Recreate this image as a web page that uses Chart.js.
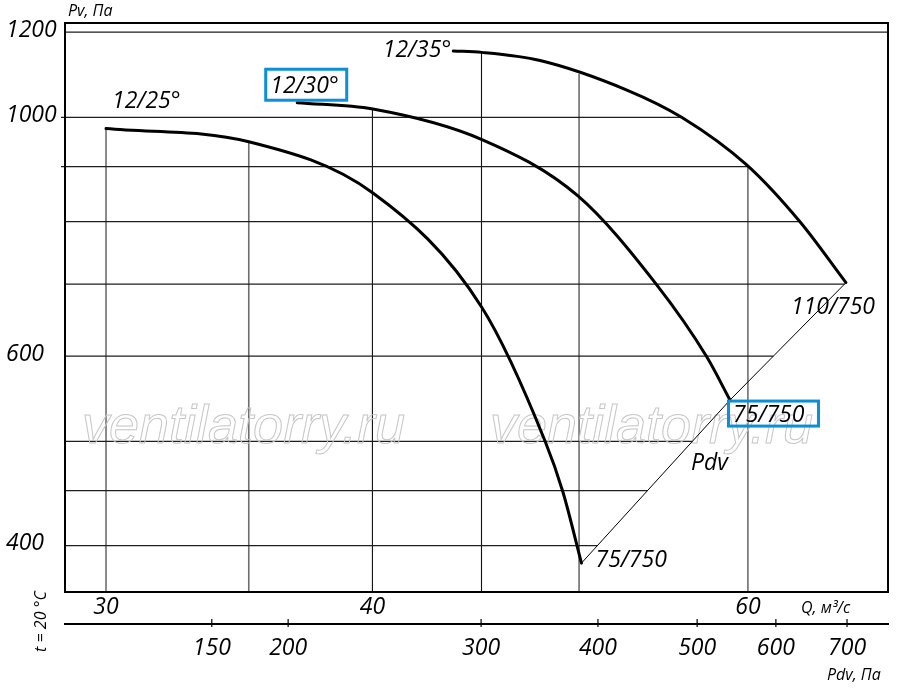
<!DOCTYPE html>
<html><head><meta charset="utf-8">
<script src="https://cdn.jsdelivr.net/npm/chart.js@4.4.0/dist/chart.umd.min.js"></script>
<style>html,body{margin:0;padding:0;background:#fff;}#wrap{width:900px;height:693px;}</style>
</head><body><div id="wrap"><canvas id="c" width="900" height="693"></canvas></div>
<script>
// ---- data ----
const qGridLines   = [30, 35, 40, 45, 50, 60];
const qTickLabels  = [30, 40, 60];
const pvGridLines  = [400, 450, 500, 600, 700, 800, 900, 1000, 1200];
const pvTickLabels = [400, 600, 1000, 1200];
const pdvTickLabels = [150, 200, 300, 400, 500, 600, 700];
const pdvTickAtQ    = [33.63, 36.52, 44.98, 51.03, 56.80, 61.84, 66.78];

const curve25Q  = [30, 35, 40.02, 45.02, 48.2, 49.14, 50.13];
const curve25Pv = [976.3, 949, 850.6, 665.8, 500.2, 448.5, 385.4];
const curve30Q  = [36.88, 40.02, 45.02, 49.94, 54.33, 57.4, 58.85];
const curve30Pv = [1031.7, 1017.9, 953.6, 845.2, 700.2, 598.8, 546.2];
const curve35Q  = [43.65, 45.02, 47.94, 52.65, 55.88, 59.94, 63.47, 66.7];
const curve35Pv = [1152.4, 1149, 1129.3, 1060.1, 999.6, 902.7, 799.7, 702.1];
const pdvLineQ  = [50.13, 58.85, 66.7];
const pdvLinePv = [385.4, 546.2, 702.1];

const curveNames  = ['12/25°', '12/30°', '12/35°'];
const pointLabels = ['75/750', '75/750', '110/750'];
const qRange  = [28.7, 69.8];
const pvRange = [362.3, 1223.5];

// ---- helpers ----
const FAM = "'Open Sans', sans-serif";
const pts = (qs, ps) => qs.map((q, i) => ({x: q, y: ps[i]}));
function yAtX(p, X) {
  if (X < p[0].x - 0.6 || X > p[p.length - 1].x + 0.6) return null;
  for (let i = 0; i < p.length - 1; i++) {
    const a = p[i], b = p[i + 1];
    if (X >= a.x - 0.6 && X <= b.x + 0.6) {
      const t = b.x === a.x ? 0 : Math.min(1, Math.max(0, (X - a.x) / (b.x - a.x)));
      return a.y + (b.y - a.y) * t;
    }
  }
  return p[p.length - 1].y;
}
function xAtY(p, Y) {
  if (Y < p[0].y) return null;
  for (let i = 0; i < p.length - 1; i++) {
    const a = p[i], b = p[i + 1];
    if (Y >= a.y && Y <= b.y) {
      const t = b.y === a.y ? 0 : (Y - a.y) / (b.y - a.y);
      return a.x + (b.x - a.x) * t;
    }
  }
  return p[p.length - 1].x;
}
const px = meta => meta.data.map(e => ({x: e.x, y: e.y}));

const decor = {
  id: 'decor',
  beforeDatasetsDraw(chart) {
    const {ctx, chartArea: a, scales: {x, y}} = chart;
    const c = [0, 1, 2].map(i => px(chart.getDatasetMeta(i)));
    const pd = px(chart.getDatasetMeta(3));
    ctx.save();
    // vertical grid lines, stopping at the top curve
    qGridLines.forEach(q => {
      const X = x.getPixelForValue(q);
      let top = null;
      c.forEach(p => { const v = yAtX(p, X); if (v !== null && (top === null || v < top)) top = v; });
      if (top === null) top = a.top;
      ctx.beginPath();
      ctx.strokeStyle = (q === 40 || q === 45) ? '#111' : '#6e6e6e';
      ctx.lineWidth = (q === 40 || q === 45) ? 1.1 : 1.6;
      ctx.moveTo(X, a.bottom); ctx.lineTo(X, top); ctx.stroke();
    });
    // horizontal grid lines, stopping at the outer envelope (12/35 curve + Pdv line)
    const env = c[2].concat(pd.slice().reverse()).sort((m, n) => m.y - n.y);
    pvGridLines.forEach(v => {
      const Y = y.getPixelForValue(v);
      let r = xAtY(env, Y);
      if (r === null) r = a.right;
      const l = (v === 900 || v === 1000) ? a.left - 4 : a.left;
      ctx.beginPath();
      ctx.strokeStyle = '#1e1e1e'; ctx.lineWidth = 1.2;
      ctx.moveTo(l, Y); ctx.lineTo(r, Y); ctx.stroke();
    });
    // watermark
    ctx.font = "italic 54px 'Liberation Sans', sans-serif";
    ctx.strokeStyle = '#c6c6c6'; ctx.lineWidth = 1;
    ctx.textBaseline = 'alphabetic'; ctx.textAlign = 'left';
    ctx.strokeText('ventilatorry.ru', a.left + 17, 443);
    ctx.strokeText('ventilatorry.ru', a.left + 425, 443);
    ctx.restore();
  },
  afterDatasetsDraw(chart) {
    const {ctx, chartArea: a, scales: {x, y, x2}} = chart;
    const c = [0, 1, 2].map(i => px(chart.getDatasetMeta(i)));
    ctx.save();
    // frame
    ctx.strokeStyle = '#000'; ctx.lineWidth = 2;
    ctx.strokeRect(a.left, a.top, a.right - a.left, a.bottom - a.top);
    // Pdv tick marks
    ctx.lineWidth = 1.2;
    pdvTickAtQ.forEach(q => {
      const X = x2.getPixelForValue(q);
      ctx.beginPath(); ctx.moveTo(X, x2.top - 5); ctx.lineTo(X, x2.top + 3); ctx.stroke();
    });
    // texts
    ctx.fillStyle = '#000';
    ctx.textBaseline = 'alphabetic';
    ctx.font = `italic 23px ${FAM}`;
    const s0 = c.map(p => p[0]), e0 = c.map(p => p[p.length - 1]);
    ctx.textAlign = 'left';
    ctx.fillText(curveNames[0], s0[0].x + 6, s0[0].y - 21);
    ctx.fillText(curveNames[1], s0[1].x - 27, s0[1].y - 10);
    ctx.textAlign = 'right';
    ctx.fillText(curveNames[2], s0[2].x - 2, s0[2].y + 6);
    ctx.textAlign = 'left';
    ctx.fillText(pointLabels[0], e0[0].x + 14, e0[0].y + 4);
    ctx.fillText(pointLabels[1], e0[1].x + 3, e0[1].y + 22);
    ctx.fillText(pointLabels[2], e0[2].x - 55, e0[2].y + 31);
    ctx.fillText('Pdv', e0[1].x - 39, e0[1].y + 70);
    // blue boxes
    ctx.strokeStyle = '#0a8fd8'; ctx.lineWidth = 3;
    ctx.strokeRect(s0[1].x - 31.5, s0[1].y - 33.5, 81, 31);
    ctx.strokeRect(e0[1].x - 1.5, e0[1].y + 1, 90, 25);
    // small titles
    ctx.font = `italic 16px ${FAM}`;
    ctx.fillText('Pv, Па', a.left + 3, a.top - 7);
    ctx.fillText('Q, м³/с', a.right - 87, x.top + 21);
    ctx.fillText('Pdv, Па', a.right - 61, x2.bottom - 13);
    ctx.translate(46, (x.top + x2.bottom) / 2 - 21);
    ctx.rotate(-Math.PI / 2);
    ctx.textAlign = 'center';
    ctx.fillText('t = 20 °C', 0, 0);
    ctx.restore();
  }
};

const tickFont = {family: FAM, size: 23, style: 'italic'};
const curveDs = (qs, ps) => ({data: pts(qs, ps), borderColor: '#000', borderWidth: 3, pointRadius: 0,
  cubicInterpolationMode: 'monotone', fill: false, showLine: true, borderCapStyle: 'round'});

new Chart(document.getElementById('c'), {
  type: 'scatter',
  data: {datasets: [
    curveDs(curve25Q, curve25Pv),
    curveDs(curve30Q, curve30Pv),
    curveDs(curve35Q, curve35Pv),
    {data: pts(pdvLineQ, pdvLinePv), borderColor: '#000', borderWidth: 1, pointRadius: 0, tension: 0, showLine: true}
  ]},
  options: {
    responsive: false, animation: false, devicePixelRatio: 1,
    layout: {padding: {left: 6, right: 12, top: 23, bottom: 0}},
    plugins: {legend: {display: false}, tooltip: {enabled: false}},
    scales: {
      x: {type: 'logarithmic', min: qRange[0], max: qRange[1], position: 'bottom', weight: 0,
        afterBuildTicks: ax => { ax.ticks = qTickLabels.map(v => ({value: v})); },
        afterFit: ax => { ax.height = 32; },
        ticks: {autoSkip: false, maxRotation: 0, padding: 2, font: tickFont, color: '#000', callback: v => String(v)},
        grid: {display: false, drawTicks: false}, border: {display: false}},
      x2: {type: 'logarithmic', min: qRange[0], max: qRange[1], position: 'bottom', weight: 1,
        afterBuildTicks: ax => { ax.ticks = pdvTickAtQ.map(v => ({value: v})); },
        afterFit: ax => { ax.height = 69; },
        ticks: {autoSkip: false, maxRotation: 0, padding: 11, font: tickFont, color: '#000',
          callback: (v, i) => String(pdvTickLabels[i])},
        grid: {display: false, drawTicks: false}, border: {display: true, color: '#000', width: 2}},
      y: {type: 'logarithmic', min: pvRange[0], max: pvRange[1], position: 'left',
        afterBuildTicks: ax => { ax.ticks = pvGridLines.map(v => ({value: v})); },
        afterFit: ax => { ax.width = 59; },
        ticks: {autoSkip: false, crossAlign: 'far', padding: 4, labelOffset: -2, font: tickFont, color: '#000',
          callback: v => pvTickLabels.includes(v) ? String(v) : ''},
        grid: {display: false, drawTicks: false}, border: {display: false}}
    }
  },
  plugins: [decor]
});
</script></body></html>
